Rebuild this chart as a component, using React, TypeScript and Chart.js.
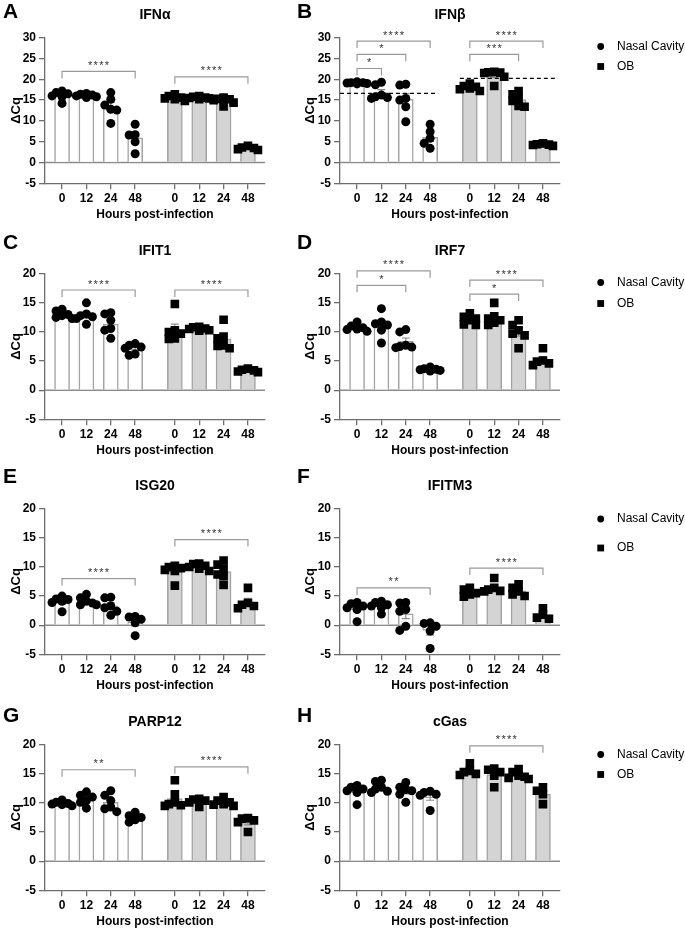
import React, { useEffect, useRef } from 'react';
import { Chart, registerables } from 'chart.js';

Chart.register(...registerables);

const FONT = '"Liberation Sans", Arial, Helvetica, sans-serif';

// ---------- tick labels / series ----------
const HOURS = ['0', '12', '24', '48', '0', '12', '24', '48'];
const SERIES = ['Nasal Cavity', 'OB'];
const X_AXIS_TITLE = 'Hours post-infection';
const Y_AXIS_TITLE = 'ΔCq';

// ---------- data (one array of replicate values per time point) ----------
// A  IFNα
const IFNA_NC = [
  [17.2, 16.8, 16.5, 16.0, 15.8, 14.2],
  [16.6, 16.4, 16.2, 16.0, 15.8, 15.6],
  [16.8, 15.2, 13.8, 12.6, 12.8, 9.4],
  [9.2, 6.6, 6.7, 5.0, 2.1],
];
const IFNA_OB = [
  [16.4, 16.0, 15.6, 15.2, 14.8, 15.4],
  [16.0, 15.8, 15.6, 15.4, 15.2, 15.5],
  [15.6, 15.3, 15.0, 14.4, 13.5, 15.2],
  [4.0, 3.5, 3.2, 3.0, 3.6],
];
const IFNA_SIG: [number, number, number, string][] = [
  [0, 3, 21.9, '****'],
  [4, 7, 20.6, '****'],
];

// B  IFNβ
const IFNB_NC = [
  [19.4, 19.2, 19.1, 19.0, 18.9, 19.2],
  [19.3, 18.7, 16.2, 15.8, 15.6, 15.4],
  [18.8, 18.6, 15.4, 15.0, 13.4, 9.8],
  [9.2, 7.4, 5.8, 4.6, 3.4],
];
const IFNB_OB = [
  [19.0, 18.4, 18.2, 17.8, 17.6, 17.2],
  [21.8, 21.7, 21.5, 21.6, 20.6, 18.4],
  [17.2, 16.4, 15.4, 14.8, 13.6, 13.4],
  [4.6, 4.4, 4.2, 4.0, 4.3],
];
const IFNB_SIG: [number, number, number, string][] = [
  [0, 1, 22.6, '*'],
  [0, 2, 26.0, '*'],
  [0, 3, 29.2, '****'],
  [4, 6, 26.0, '***'],
  [4, 7, 29.2, '****'],
];
const IFNB_REF = [16.6, 20.2];

// C  IFIT1
const IFIT1_NC = [
  [13.9, 13.6, 13.0, 12.8, 12.5, 12.3],
  [15.0, 13.1, 12.8, 12.6, 12.3, 11.3],
  [13.3, 13.1, 12.0, 10.6, 10.3, 8.9],
  [8.0, 7.7, 7.4, 7.2, 6.2, 6.0],
];
const IFIT1_OB = [
  [14.8, 10.3, 10.0, 9.7, 8.9, 8.8],
  [10.9, 10.8, 10.6, 10.5, 10.3, 10.2],
  [12.1, 9.2, 8.9, 7.7, 7.6, 7.2],
  [3.7, 3.5, 3.4, 3.2, 3.1],
];
const IFIT1_SIG: [number, number, number, string][] = [
  [0, 3, 17.2, '****'],
  [4, 7, 17.2, '****'],
];

// D  IRF7
const IRF7_NC = [
  [11.7, 11.0, 10.7, 10.5, 10.4, 10.1],
  [14.0, 11.7, 11.4, 11.2, 10.3, 8.1],
  [10.4, 10.0, 7.7, 7.5, 7.4, 7.3],
  [4.0, 3.7, 3.6, 3.5, 3.4, 3.3],
];
const IRF7_OB = [
  [13.2, 12.6, 12.3, 12.0, 11.3, 11.2],
  [15.0, 12.7, 12.3, 12.0, 11.6, 11.2],
  [12.0, 11.2, 10.3, 9.7, 9.4, 7.2],
  [7.2, 5.1, 4.9, 4.6, 4.3],
];
const IRF7_SIG: [number, number, number, string][] = [
  [0, 2, 18.0, '*'],
  [0, 3, 20.5, '****'],
  [4, 6, 16.5, '*'],
  [4, 7, 18.9, '****'],
];

// E  ISG20
const ISG20_NC = [
  [5.0, 4.5, 4.4, 4.1, 3.9, 2.3],
  [5.3, 4.7, 4.1, 3.8, 3.5, 3.5],
  [4.8, 4.7, 3.3, 3.0, 2.4, 1.7],
  [1.5, 1.4, 1.0, 0.4, -1.8],
];
const ISG20_OB = [
  [10.2, 10.0, 9.8, 9.5, 9.3, 6.8],
  [10.6, 10.5, 10.2, 10.0, 9.7, 9.3],
  [11.1, 10.4, 9.7, 8.7, 8.4, 6.9],
  [6.4, 3.8, 3.5, 3.3, 2.9],
];
const ISG20_SIG: [number, number, number, string][] = [
  [0, 3, 8.0, '****'],
  [4, 7, 14.7, '****'],
];

// F  IFITM3
const IFITM3_NC = [
  [3.9, 3.7, 3.3, 3.0, 2.7, 0.6],
  [4.1, 3.9, 3.5, 3.3, 3.0, 1.9],
  [3.9, 3.8, 2.7, 2.4, -0.2, -0.9],
  [0.4, 0.3, -0.2, -1.0, -4.0],
];
const IFITM3_OB = [
  [6.4, 6.1, 5.5, 5.3, 4.9],
  [8.1, 6.4, 6.1, 5.9, 5.8],
  [7.0, 6.4, 5.8, 5.3, 5.0],
  [2.9, 1.8, 1.3, 1.1],
];
const IFITM3_SIG: [number, number, number, string][] = [
  [0, 3, 6.4, '**'],
  [4, 7, 9.8, '****'],
];

// G  PARP12
const PARP12_NC = [
  [10.5, 10.1, 9.9, 9.8, 9.7, 9.5],
  [11.9, 11.3, 11.0, 10.4, 10.1, 9.1],
  [12.1, 11.3, 10.4, 9.3, 9.0, 8.5],
  [8.4, 7.8, 7.5, 7.1, 6.7],
];
const PARP12_OB = [
  [13.9, 11.5, 10.1, 9.8, 9.5, 9.6],
  [10.7, 10.6, 10.4, 10.1, 9.3],
  [11.0, 10.4, 10.1, 9.8, 9.5, 9.7],
  [7.4, 7.3, 7.0, 6.7, 5.0],
];
const PARP12_SIG: [number, number, number, string][] = [
  [0, 3, 15.7, '**'],
  [4, 7, 16.2, '****'],
];

// H  cGas
const CGAS_NC = [
  [13.0, 12.7, 12.4, 12.1, 11.8, 9.7],
  [13.9, 13.7, 12.7, 12.4, 12.0, 11.8],
  [13.5, 12.7, 12.3, 12.1, 11.5, 10.1],
  [12.0, 11.8, 11.5, 11.3, 8.7],
];
const CGAS_OB = [
  [16.8, 15.5, 15.3, 15.0, 14.8],
  [15.9, 15.7, 15.3, 14.7, 12.7],
  [15.8, 15.3, 14.7, 14.3, 14.1, 14.5],
  [12.7, 12.1, 11.5, 9.8],
];
const CGAS_SIG: [number, number, number, string][] = [[4, 7, 19.8, '****']];

// ---------- layout constants ----------
const GROUP_GAP = 1.63;
const X_MIN = -0.7;
const X_MAX = 3 + GROUP_GAP + 3 + 0.7;
const XPOS = [0, 1, 2, 3].concat([0, 1, 2, 3].map((i) => 3 + GROUP_GAP + i));
const Y_MIN = -5;
const ROW_STRIDE = 235.5;
const OFF = 10; // extra canvas space above each row
const CELL_H = 222 + OFF;
const PLOT_TOP = 37.7 + OFF;
const PLOT_BOTTOM = 183.3 + OFF;
const LETTER_Y = [12, 7.3, 6.5, 9];
const AXIS = '#6e6e6e';
const BAR_BORDER = '#a3a3a3';
const BAR_GRAY = '#d4d4d4';

type Sig = [number, number, number, string];
interface PanelDef {
  letter: string;
  title: string;
  nc: number[][];
  ob: number[][];
  sig: Sig[];
  yMax: number;
  row: number;
  col: number;
  ref?: number[];
  legendY?: [number, number];
}

const PANELS: PanelDef[] = [
  { letter: 'A', title: 'IFNα', nc: IFNA_NC, ob: IFNA_OB, sig: IFNA_SIG, yMax: 30, row: 0, col: 0 },
  { letter: 'B', title: 'IFNβ', nc: IFNB_NC, ob: IFNB_OB, sig: IFNB_SIG, yMax: 30, row: 0, col: 1, ref: IFNB_REF, legendY: [46.5, 66.5] },
  { letter: 'C', title: 'IFIT1', nc: IFIT1_NC, ob: IFIT1_OB, sig: IFIT1_SIG, yMax: 20, row: 1, col: 0 },
  { letter: 'D', title: 'IRF7', nc: IRF7_NC, ob: IRF7_OB, sig: IRF7_SIG, yMax: 20, row: 1, col: 1, legendY: [46.5, 67.5] },
  { letter: 'E', title: 'ISG20', nc: ISG20_NC, ob: ISG20_OB, sig: ISG20_SIG, yMax: 20, row: 2, col: 0 },
  { letter: 'F', title: 'IFITM3', nc: IFITM3_NC, ob: IFITM3_OB, sig: IFITM3_SIG, yMax: 20, row: 2, col: 1, legendY: [48, 77] },
  { letter: 'G', title: 'PARP12', nc: PARP12_NC, ob: PARP12_OB, sig: PARP12_SIG, yMax: 20, row: 3, col: 0 },
  { letter: 'H', title: 'cGas', nc: CGAS_NC, ob: CGAS_OB, sig: CGAS_SIG, yMax: 20, row: 3, col: 1, legendY: [47.5, 67.5] },
];

const mean = (a: number[]) => a.reduce((s, v) => s + v, 0) / a.length;
const sem = (a: number[]) => {
  const m = mean(a);
  const v = a.reduce((s, x) => s + (x - m) * (x - m), 0) / (a.length - 1);
  return Math.sqrt(v) / Math.sqrt(a.length);
};

// compact scatter spread (points may overlap, like the original)
function swarm(values: number[], center: number, pxX: number, pxY: number) {
  const placed: { dx: number; v: number }[] = [];
  const sorted = values.slice().sort((a, b) => b - a);
  const cands = [0, -6, 6, -10, 10];
  const minD = 6;
  const out: { x: number; y: number }[] = [];
  for (const v of sorted) {
    let best = cands[0];
    let bestScore = -1;
    for (const c of cands) {
      let dmin = Infinity;
      placed.forEach((p) => {
        const dx = c - p.dx;
        const dy = (v - p.v) * pxY;
        dmin = Math.min(dmin, Math.sqrt(dx * dx + dy * dy));
      });
      if (dmin >= minD) {
        best = c;
        bestScore = Infinity;
        break;
      }
      if (dmin > bestScore) {
        bestScore = dmin;
        best = c;
      }
    }
    placed.push({ dx: best, v });
    out.push({ x: center + best / pxX, y: v });
  }
  return out;
}

function Panel({ p }: { p: PanelDef }) {
  const ref = useRef<HTMLCanvasElement>(null);
  const right = p.col === 1;
  const W = right ? 395 : 290;
  const left = right ? 290 : 0;
  const top = p.row * ROW_STRIDE - OFF;

  useEffect(() => {
    const plotLeft = right ? 50 : 45;
    const plotRight = right ? 270 : 265;
    const pxX = (plotRight - plotLeft) / (X_MAX - X_MIN);
    const pxY = (PLOT_BOTTOM - PLOT_TOP) / (p.yMax - Y_MIN);
    const groups = p.nc.concat(p.ob);
    const means = groups.map(mean);
    const sems = groups.map(sem);
    const ncPts = p.nc.flatMap((g, i) => swarm(g, XPOS[i], pxX, pxY));
    const obPts = p.ob.flatMap((g, i) => swarm(g, XPOS[i + 4], pxX, pxY));

    const deco = {
      id: 'deco' + p.letter,
      beforeDatasetsDraw(chart: any) {
        const { ctx, chartArea } = chart;
        const y0 = chart.scales.y.getPixelForValue(0);
        ctx.save();
        ctx.strokeStyle = '#8c8c8c';
        ctx.lineWidth = 1.4;
        ctx.beginPath();
        ctx.moveTo(chartArea.left, y0);
        ctx.lineTo(chartArea.right, y0);
        ctx.stroke();
        ctx.restore();
      },
      afterDatasetDraw(chart: any, args: any) {
        if (args.meta.type !== 'bar') return;
        const { ctx } = chart;
        const xs = chart.scales.x;
        const ys = chart.scales.y;
        ctx.save();
        ctx.strokeStyle = '#8a8a8a';
        ctx.lineWidth = 1.2;
        means.forEach((m, i) => {
          const x = xs.getPixelForValue(XPOS[i]);
          const yt = ys.getPixelForValue(m + sems[i]);
          const yb = ys.getPixelForValue(m - sems[i]);
          ctx.beginPath();
          ctx.moveTo(x, yt);
          ctx.lineTo(x, yb);
          ctx.moveTo(x - 4, yt);
          ctx.lineTo(x + 4, yt);
          ctx.moveTo(x - 4, yb);
          ctx.lineTo(x + 4, yb);
          ctx.stroke();
        });
        ctx.restore();
      },
      afterDraw(chart: any) {
        const { ctx, chartArea } = chart;
        const xs = chart.scales.x;
        const ys = chart.scales.y;
        ctx.save();
        if (p.ref) {
          ctx.strokeStyle = '#000';
          ctx.lineWidth = 1.2;
          ctx.setLineDash([4, 3]);
          const spans = [
            [chartArea.left, xs.getPixelForValue(XPOS[3]) + 8],
            [xs.getPixelForValue(XPOS[4]) - 10, xs.getPixelForValue(XPOS[7]) + 15],
          ];
          p.ref.forEach((v, g) => {
            const y = ys.getPixelForValue(v);
            ctx.beginPath();
            ctx.moveTo(spans[g][0], y);
            ctx.lineTo(spans[g][1], y);
            ctx.stroke();
          });
          ctx.setLineDash([]);
        }
        ctx.strokeStyle = '#9a9a9a';
        ctx.lineWidth = 1.2;
        ctx.fillStyle = '#333';
        ctx.font = `11px ${FONT}`;
        ctx.textAlign = 'center';
        ctx.textBaseline = 'alphabetic';
        try {
          (ctx as any).letterSpacing = '1.3px';
        } catch (e) {}
        p.sig.forEach(([a, b, v, label]) => {
          const x1 = xs.getPixelForValue(XPOS[a]);
          const x2 = xs.getPixelForValue(XPOS[b]);
          const y = ys.getPixelForValue(v);
          ctx.beginPath();
          ctx.moveTo(x1, y + 7);
          ctx.lineTo(x1, y);
          ctx.lineTo(x2, y);
          ctx.lineTo(x2, y + 7);
          ctx.stroke();
          ctx.fillText(label, (x1 + x2) / 2 + 0.6, y - 2.5);
        });
        try {
          (ctx as any).letterSpacing = '0px';
        } catch (e) {}
        ctx.fillStyle = '#000';
        const cx = (chartArea.left + chartArea.right) / 2;
        ctx.font = `bold 14px ${FONT}`;
        ctx.textAlign = 'center';
        ctx.textBaseline = 'middle';
        ctx.fillText(p.title, cx, 14.8 + OFF);
        ctx.font = `bold 12px ${FONT}`;
        ctx.fillText(X_AXIS_TITLE, cx, PLOT_BOTTOM + 31.5);
        ctx.font = `bold 21px ${FONT}`;
        ctx.textAlign = 'left';
        ctx.fillText(p.letter, right ? 7 : 3, LETTER_Y[p.row] + OFF);
        ctx.save();
        ctx.translate(right ? 20 : 16, (PLOT_TOP + PLOT_BOTTOM) / 2);
        ctx.rotate(-Math.PI / 2);
        ctx.font = `bold 13px ${FONT}`;
        ctx.textAlign = 'center';
        ctx.fillText(Y_AXIS_TITLE, 0, 0);
        ctx.restore();
        if (p.legendY) {
          const ly1 = p.legendY[0] + OFF;
          const ly2 = p.legendY[1] + OFF;
          ctx.fillStyle = '#000';
          ctx.beginPath();
          ctx.arc(310.7, ly1, 3.4, 0, Math.PI * 2);
          ctx.fill();
          ctx.fillRect(310.7 - 3.4, ly2 - 3.4, 6.8, 6.8);
          ctx.font = `12px ${FONT}`;
          ctx.textAlign = 'left';
          ctx.fillText(SERIES[0], 327, ly1);
          ctx.fillText(SERIES[1], 327, ly2);
        }
        ctx.restore();
      },
    };

    const tickFont = { family: FONT, size: 12, weight: 'bold' as const };
    const chart = new Chart(ref.current as HTMLCanvasElement, {
      type: 'bar',
      data: {
        datasets: [
          {
            type: 'bar',
            label: 'mean',
            data: XPOS.map((x, i) => ({ x, y: means[i] })),
            backgroundColor: XPOS.map((_, i) => (i < 4 ? '#ffffff' : BAR_GRAY)),
            borderColor: BAR_BORDER,
            borderWidth: 1.5,
            barThickness: 15,
            grouped: false,
            order: 2,
          } as any,
          {
            type: 'scatter',
            label: SERIES[0],
            data: ncPts,
            pointStyle: 'circle',
            pointRadius: 4.5,
            backgroundColor: '#000',
            borderWidth: 0,
            order: 1,
          } as any,
          {
            type: 'scatter',
            label: SERIES[1],
            data: obPts,
            pointStyle: 'rect',
            pointRadius: 6.1,
            backgroundColor: '#000',
            borderWidth: 0,
            order: 1,
          } as any,
        ],
      },
      options: {
        responsive: false,
        animation: false,
        events: [],
        layout: { padding: { top: PLOT_TOP, left: 0, right: W - plotRight, bottom: 0 } },
        plugins: { legend: { display: false }, tooltip: { enabled: false }, title: { display: false } },
        scales: {
          x: {
            type: 'linear',
            min: X_MIN,
            max: X_MAX,
            offset: false,
            afterBuildTicks: (s: any) => {
              s.ticks = XPOS.map((v) => ({ value: v }));
            },
            afterFit: (s: any) => {
              s.height = CELL_H - PLOT_BOTTOM;
            },
            ticks: {
              autoSkip: false,
              maxRotation: 0,
              padding: 2,
              color: '#000',
              font: tickFont,
              callback: (_v: any, i: number) => HOURS[i],
            },
            grid: { display: true, drawOnChartArea: false, drawTicks: true, tickLength: 6, color: AXIS, lineWidth: 1.3, offset: false },
            border: { display: true, color: AXIS, width: 1.3 },
          },
          y: {
            type: 'linear',
            min: Y_MIN,
            max: p.yMax,
            afterFit: (s: any) => {
              s.width = plotLeft;
            },
            ticks: { stepSize: 5, padding: 3, color: '#000', font: tickFont },
            grid: { display: true, drawOnChartArea: false, drawTicks: true, tickLength: 6, color: AXIS, lineWidth: 1.3 },
            border: { display: true, color: AXIS, width: 1.3 },
          },
        },
      } as any,
      plugins: [deco],
    });
    return () => chart.destroy();
  }, [p]);

  return (
    <canvas
      ref={ref}
      width={W}
      height={CELL_H}
      style={{ position: 'absolute', left, top, width: W, height: CELL_H }}
    />
  );
}

export default function App() {
  return (
    <div style={{ position: 'absolute', left: 0, top: 0, width: 685, height: 929, background: '#fff', overflow: 'hidden' }}>
      {PANELS.map((p) => (
        <Panel key={p.letter} p={p} />
      ))}
    </div>
  );
}
